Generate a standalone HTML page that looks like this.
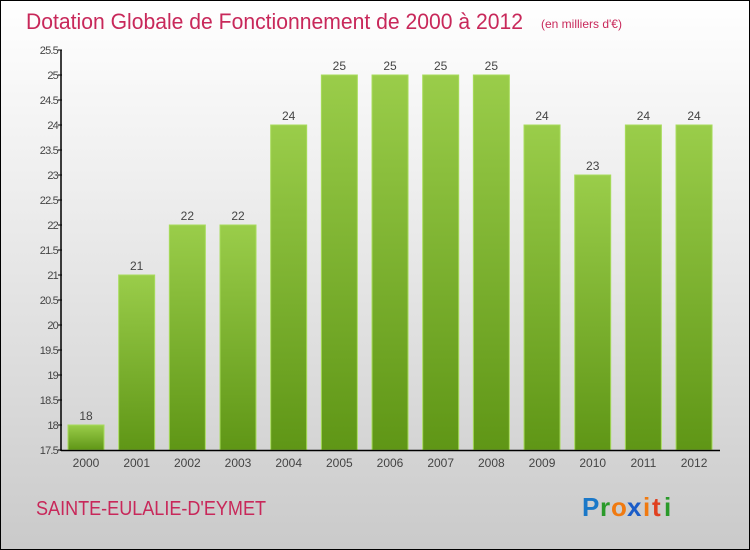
<!DOCTYPE html>
<html><head><meta charset="utf-8"><style>
html,body{margin:0;padding:0}
body{width:750px;height:550px;overflow:hidden;font-family:"Liberation Sans",sans-serif}
#wrap{position:relative;width:748px;height:548px;border:1px solid #000;background:linear-gradient(#ffffff 0%,#f0f0f0 30%,#d8d8d8 75%,#cacaca 100%)}
</style></head><body>
<div id="wrap">
<svg width="748" height="548" viewBox="1 1 748 548" style="position:absolute;left:0;top:0">
<defs>
<linearGradient id="g" x1="0" y1="0" x2="0" y2="1"><stop offset="0" stop-color="#9acd4a"/><stop offset="1" stop-color="#5f9616"/></linearGradient>
</defs>
<text x="26" y="29" font-size="22" fill="#c8285a" textLength="497" lengthAdjust="spacingAndGlyphs">Dotation Globale de Fonctionnement de 2000 à 2012</text>
<text x="541" y="28" font-size="12" fill="#c8285a">(en milliers d'€)</text>
<g id="plot"></g>
<text x="36" y="515" font-size="20" fill="#c8285a" textLength="230" lengthAdjust="spacingAndGlyphs">SAINTE-EULALIE-D'EYMET</text>
<g font-size="26" font-family="'Liberation Sans',sans-serif" font-weight="bold">
<text x="582" y="516" fill="#1a78c8">P</text><text x="600" y="516" fill="#2a9a2a">r</text><text x="611" y="516" fill="#f07a10">o</text><text x="627" y="516" fill="#1a5cc8">x</text><text x="643" y="516" fill="#f07a10">i</text><text x="652" y="516" fill="#e04020">t</text><text x="664" y="516" fill="#2a9a2a">i</text>
</g>
</svg>
</div>
<script>
const years=["2000","2001","2002","2003","2004","2005","2006","2007","2008","2009","2010","2011","2012"];
const values=[18,21,22,22,24,25,25,25,25,24,23,24,24];
const ticks=[17.5,18,18.5,19,19.5,20,20.5,21,21.5,22,22.5,23,23.5,24,24.5,25,25.5];
const NS="http://www.w3.org/2000/svg";
const plot=document.getElementById('plot');
const y=v=>450-(v-17.5)*50;
const x=i=>86+i*50.67;
function mk(t,a){const e=document.createElementNS(NS,t);for(const k in a)e.setAttribute(k,a[k]);plot.appendChild(e);return e;}
values.forEach((v,i)=>{
 const r=mk('rect',{x:x(i)-18,y:y(v),width:36,height:450-y(v),fill:'url(#g)',stroke:'#a8dc5c','stroke-width':1});
 
 
 const t=mk('text',{x:x(i),y:y(v)-5,'font-size':12,fill:'#444','text-anchor':'middle'});
 t.textContent=v;
 
 
 const xl=mk('text',{x:x(i),y:467,'font-size':12,fill:'#444','text-anchor':'middle'});
 xl.textContent=years[i];
 
 
});
ticks.forEach(t=>{
 const l=mk('line',{x1:58,x2:62,y1:y(t),y2:y(t),stroke:'#000'});
 
 
 const tx=mk('text',{x:58,y:y(t)+4,'font-size':11,fill:'#444','text-anchor':'end','letter-spacing':'-0.8'});
 tx.textContent=t;
 
 
});
const ya=mk('line',{x1:61,x2:61,y1:50,y2:451,stroke:'#000','stroke-width':1.5});


const xa=mk('line',{x1:61,x2:720,y1:450.5,y2:450.5,stroke:'#000','stroke-width':1.5});


</script>
</body></html>
